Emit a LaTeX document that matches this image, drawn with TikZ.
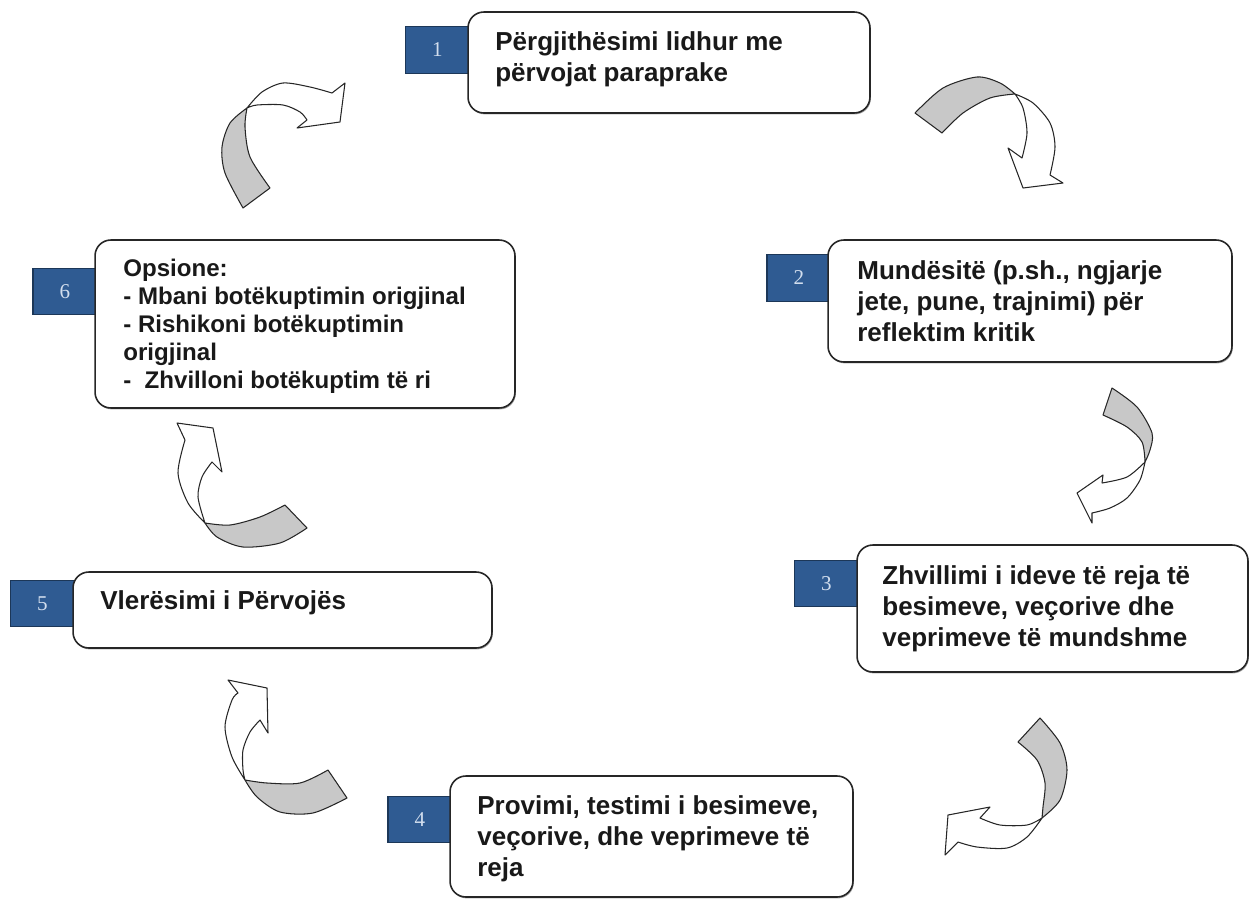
\documentclass[tikz,border=0pt]{standalone}
\usepackage{fontspec}
\setmainfont{Liberation Sans}
\newfontfamily\numfont{Liberation Serif}
\usetikzlibrary{shadows}
\definecolor{numblue}{RGB}{47,91,146}
\definecolor{numtext}{RGB}{210,222,238}
\definecolor{arrgray}{RGB}{200,200,200}
\begin{document}
\begin{tikzpicture}[x=0.02cm,y=-0.02cm,
 box/.style={draw=black!85, line width=0.9pt, rounded corners=9pt, fill=white, inner sep=0pt,
   drop shadow={shadow xshift=0.5pt, shadow yshift=-0.8pt, fill=black!45, opacity=0.8}},
 numbox/.style={draw=numblue!60!black, fill=numblue, line width=0.6pt, inner sep=0pt,
   minimum width=1.28cm, minimum height=0.93cm, font=\numfont\fontsize{12}{14}\selectfont, text=numtext},
 txt/.style={inner sep=0pt, align=left, anchor=west, font=\bfseries\fontsize{14.8}{17.6}\selectfont, text=black!90},
 back/.style={fill=arrgray, draw=black!85, line width=0.6pt, line join=round},
 front/.style={fill=white, draw=black!85, line width=0.6pt, line join=round}]

\useasboundingbox (0,0) rectangle (1250,899);

% number squares
\node[numbox] (n1) at (437.5,50) {1};
\node[numbox] (n2) at (799,278) {2};
\node[numbox] (n3) at (826.5,583.5) {3};
\node[numbox] (n4) at (420,819.5) {4};
\node[numbox] (n5) at (42.5,603.5) {5};
\node[numbox] (n6) at (65,291.5) {6};

% boxes
\node[box, minimum width=8.04cm, minimum height=2.02cm] (b1) at (669,62.5) {};
\node[box, minimum width=8.08cm, minimum height=2.44cm] (b2) at (1030,301) {};
\node[box, minimum width=7.82cm, minimum height=2.54cm] (b3) at (1052.5,608.5) {};
\node[box, minimum width=8.06cm, minimum height=2.42cm] (b4) at (651.5,836.5) {};
\node[box, minimum width=8.38cm, minimum height=1.52cm] (b5) at (282.5,610) {};
\node[box, minimum width=8.40cm, minimum height=3.36cm] (b6) at (305,324) {};

% texts
\node[txt] (t1) at (495,59) {Përgjithësimi lidhur me\\përvojat paraprake};
\node[txt] (t2) at (857,301.5) {Mundësitë (p.sh., ngjarje\\jete, pune, trajnimi) për\\reflektim kritik};
\node[txt] (t3) at (882,609) {Zhvillimi i ideve të reja të\\besimeve, veçorive dhe\\veprimeve të mundshme};
\node[txt] (t4) at (477,839) {Provimi, testimi i besimeve,\\veçorive, dhe veprimeve të\\reja};
\node[txt] (t5) at (100,603) {Vlerësimi i Përvojës};
\node[txt, font=\bfseries\fontsize{13.7}{15.9}\selectfont] (t6) at (123,326.5)
  {Opsione:\\- Mbani botëkuptimin origjinal\\- Rishikoni botëkuptimin\\origjinal\\-\ \ Zhvilloni botëkuptim të ri};

% arrow A (6 -> 1)
\draw[back] plot[smooth] coordinates {(247,108) (230,123) (222,147) (225,173) (243,208)}
  -- plot[smooth] coordinates {(270,188) (250,157) (245,127) (247,108)} -- cycle;
\draw[front] plot[smooth] coordinates {(247,108) (262,92) (283,83) (310,87) (332,93)}
  -- (345,83) -- (340,122) -- (297,128)
  -- plot[smooth] coordinates {(307,120) (300,112) (283,105) (257,105) (247,108)} -- cycle;

% arrow B (1 -> 2)
\draw[back] plot[smooth] coordinates {(915,113) (943,88) (977,77) (1000,83) (1015,94)}
  -- plot[smooth] coordinates {(1015,94) (990,98) (963,113) (942,133)} -- cycle;
\draw[front] plot[smooth] coordinates {(1015,94) (1033,103) (1050,123) (1055,147) (1050,175)}
  -- (1063,183) -- (1023,188) -- (1008,148)
  -- plot[smooth] coordinates {(1022,158) (1027,133) (1023,108) (1015,94)} -- cycle;

% arrow C (2 -> 3)
\draw[back] plot[smooth] coordinates {(1112,388) (1137,407) (1152,433) (1150,450) (1145,462)}
  -- plot[smooth] coordinates {(1145,462) (1142,442) (1127,427) (1103,415)} -- cycle;
\draw[front] plot[smooth] coordinates {(1145,462) (1140,480) (1127,498) (1110,508) (1092,513)}
  -- (1092,523) -- (1077,493) -- (1103,475)
  -- plot[smooth] coordinates {(1102,483) (1127,477) (1145,462)} -- cycle;

% arrow D (3 -> 4)
\draw[back] plot[smooth] coordinates {(1040,718) (1060,743) (1067,770) (1060,800) (1042,818)}
  -- plot[smooth] coordinates {(1042,818) (1043,807) (1045,783) (1037,760) (1018,742)} -- cycle;
\draw[front] plot[smooth] coordinates {(1042,818) (1027,837) (1007,848) (977,847) (958,842)}
  -- (945,855) -- (948,815) -- (990,807)
  -- plot[smooth] coordinates {(980,818) (1000,825) (1027,825) (1042,818)} -- cycle;

% arrow E (4 -> 5)
\draw[back] plot[smooth] coordinates {(347,798) (313,813) (280,812) (257,797) (245,780)}
  -- plot[smooth] coordinates {(245,780) (267,783) (300,783) (328,770)} -- cycle;
\draw[front] plot[smooth] coordinates {(245,780) (232,757) (225,727) (232,700) (238,693)}
  -- (228,680) -- (267,688) -- (268,733)
  -- plot[smooth] coordinates {(260,720) (250,732) (243,750) (243,770) (245,780)} -- cycle;

% arrow F (5 -> 6)
\draw[back] plot[smooth] coordinates {(307,528) (280,543) (243,547) (217,537) (205,523)}
  -- plot[smooth] coordinates {(205,523) (230,525) (260,517) (285,505)} -- cycle;
\draw[front] plot[smooth] coordinates {(205,523) (188,503) (178,473) (185,440)}
  -- (177,423) -- (213,428) -- (222,472)
  -- plot[smooth] coordinates {(212,462) (202,477) (198,497) (205,523)} -- cycle;

\end{tikzpicture}
\end{document}
